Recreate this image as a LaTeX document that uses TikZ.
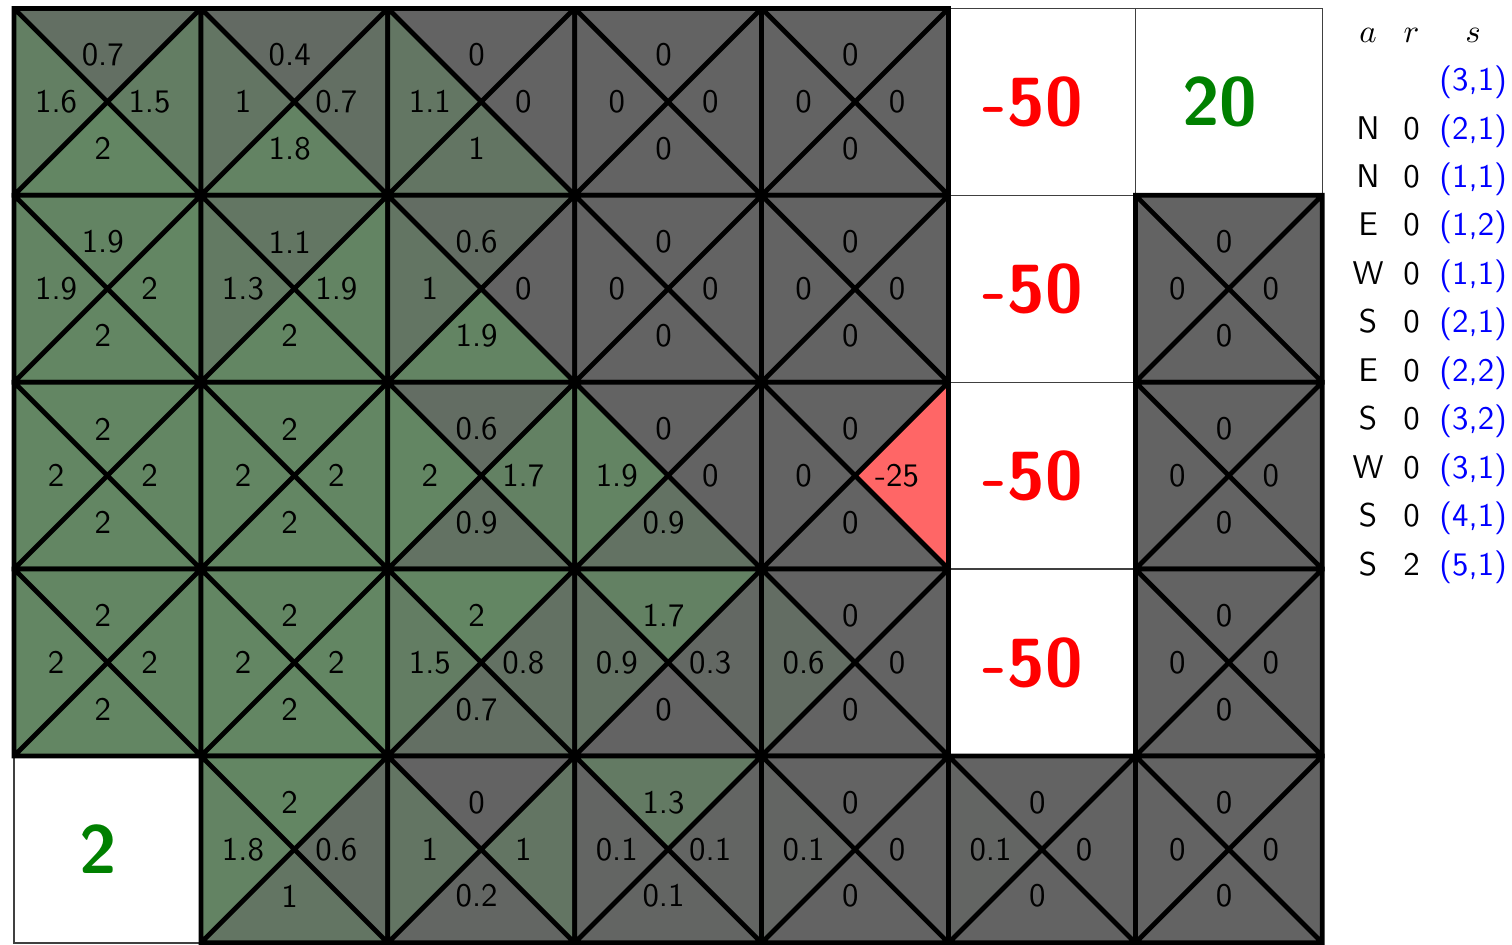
\documentclass[tikz,border=0pt]{standalone}
\usepackage{tikz}
\renewcommand{\familydefault}{\sfdefault}
\definecolor{qzero}{RGB}{99,99,99}
\definecolor{qmax}{RGB}{99,134,99}
\definecolor{qneg}{RGB}{255,102,102}
\definecolor{goal}{RGB}{0,128,0}
\newcommand{\qshade}[1]{\ifdim #1pt<0pt \colorlet{qc}{qneg}\else
  \pgfmathtruncatemacro{\qpct}{#1*50}\colorlet{qc}{qmax!\qpct!qzero}\fi}

\begin{document}
\begin{tikzpicture}[every node/.style={font=\sffamily},
  qline/.style={line width=1.45pt, black},
  qval/.style={inner sep=0pt, text=black},
  termbox/.style={draw=black!75, line width=0.4pt, fill=white},
  term/.style={inner sep=0pt, font=\sffamily\bfseries\huge}]
\useasboundingbox (-0.15,-0.02) rectangle (16.03,10.09);
% terminal cells
\foreach \r/\c/\v/\col in {1/6/-50/red, 1/7/20/goal, 2/6/-50/red, 3/6/-50/red, 4/6/-50/red, 5/1/2/goal} {
  \draw[termbox] (2*\c-2, 10-2*\r) rectangle ++(2,2);
  \node[term, text=\col] (t-\r-\c) at (2*\c-1.1, 11-2*\r) {\v};
}
% q-values per cell: row/col/N/W/E/S
\foreach \r/\c/\vn/\vw/\ve/\vs in {1/1/0.7/1.6/1.5/2, 1/2/0.4/1/0.7/1.8, 1/3/0/1.1/0/1, 1/4/0/0/0/0, 1/5/0/0/0/0,
    2/1/1.9/1.9/2/2, 2/2/1.1/1.3/1.9/2, 2/3/0.6/1/0/1.9, 2/4/0/0/0/0, 2/5/0/0/0/0, 2/7/0/0/0/0,
    3/1/2/2/2/2, 3/2/2/2/2/2, 3/3/0.6/2/1.7/0.9, 3/4/0/1.9/0/0.9, 3/5/0/0/-25/0, 3/7/0/0/0/0,
    4/1/2/2/2/2, 4/2/2/2/2/2, 4/3/2/1.5/0.8/0.7, 4/4/1.7/0.9/0.3/0, 4/5/0/0.6/0/0, 4/7/0/0/0/0,
    5/2/2/1.8/0.6/1, 5/3/0/1/1/0.2, 5/4/1.3/0.1/0.1/0.1, 5/5/0/0.1/0/0, 5/6/0/0.1/0/0, 5/7/0/0/0/0} {
  \pgfmathsetmacro{\x}{2*\c-1}\pgfmathsetmacro{\y}{11-2*\r}
  \foreach \v/\d/\ax/\ay/\bx/\by/\lx/\ly in {\vn/n/-1/1/1/1/0/0.5, \vw/w/-1/1/-1/-1/-0.5/0,
      \ve/e/1/1/1/-1/0.5/0, \vs/s/-1/-1/1/-1/0/-0.5} {
    \qshade{\v}
    \fill[qc] (\x,\y) -- (\x+\ax,\y+\ay) -- (\x+\bx,\y+\by) -- cycle;
    \node[qval] (\d-\r-\c) at (\x+\lx-0.05,\y+\ly) {\v};
  }
  \draw[qline] (\x-1,\y-1) rectangle (\x+1,\y+1) (\x-1,\y-1) -- (\x+1,\y+1) (\x-1,\y+1) -- (\x+1,\y-1);
}
% episode trace
\node[inner sep=0pt] (trace) at (15.15,6.89) {\renewcommand{\arraystretch}{1.23}\setlength{\tabcolsep}{3pt}%
  \begin{tabular}{ccc}
  $a$ & $r$ & $s$\\
   & & \textcolor{blue}{(3,1)}\\
  N & 0 & \textcolor{blue}{(2,1)}\\
  N & 0 & \textcolor{blue}{(1,1)}\\
  E & 0 & \textcolor{blue}{(1,2)}\\
  W & 0 & \textcolor{blue}{(1,1)}\\
  S & 0 & \textcolor{blue}{(2,1)}\\
  E & 0 & \textcolor{blue}{(2,2)}\\
  S & 0 & \textcolor{blue}{(3,2)}\\
  W & 0 & \textcolor{blue}{(3,1)}\\
  S & 0 & \textcolor{blue}{(4,1)}\\
  S & 2 & \textcolor{blue}{(5,1)}
  \end{tabular}};
\end{tikzpicture}
\end{document}
